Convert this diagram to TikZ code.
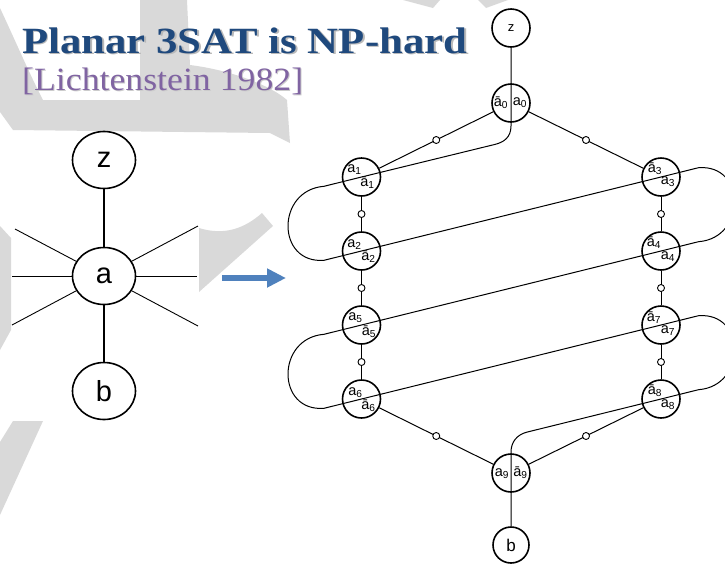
\documentclass[tikz,border=0pt]{standalone}
\usepackage{fontspec}
\setmainfont{Liberation Serif}
\newfontfamily\lblfont{Liberation Sans}
\usetikzlibrary{arrows.meta,shapes.geometric,calc}
\definecolor{titleblue}{RGB}{31,73,125}
\definecolor{subpurple}{RGB}{128,100,162}
\definecolor{arrowblue}{RGB}{79,129,189}
\definecolor{wmgrey}{RGB}{217,217,217}
\tikzset{
  wm/.style={fill=wmgrey, draw=none},
  bigvert/.style={ellipse, draw, line width=1.6pt, minimum width=63pt, minimum height=57pt, inner sep=0pt, font=\lblfont\fontsize{29}{29}\selectfont},
  vert/.style={circle, draw, line width=1.6pt, minimum size=38pt, inner sep=0pt},
  midpt/.style={circle, draw, fill=white, line width=0.9pt, minimum size=7pt, inner sep=0pt},
  lbl/.style={font=\lblfont\fontsize{14.5}{14.5}\selectfont, inner sep=0pt},
  thinedge/.style={line width=0.9pt},
  thickedge/.style={line width=2.6pt},
  wire/.style={line width=1pt},
  titletext/.style={anchor=base west, inner sep=0pt, font=\bfseries\fontsize{37}{37}\selectfont},
  subtext/.style={anchor=base west, inner sep=0pt, font=\fontsize{32.5}{32.5}\selectfont},
}
\begin{document}
\begin{tikzpicture}[x=1pt,y=-1pt]
\useasboundingbox (0,0) rectangle (725,563);
\clip (0,0) rectangle (725,563);
% watermark shapes
\fill[wm] (0,8) .. controls (15,40) and (30,75) .. (43,100) -- (140,100) -- (140,0) -- (187,0) -- (190,65) .. controls (230,70) and (270,85) .. (287,100) -- (290,143) -- (270,133) -- (13,130) -- (0,112) -- cycle;
\fill[wm] (199,228) .. controls (225,236) and (245,228) .. (262,213) -- (273,226) -- (199,292) -- cycle;
\fill[wm] (0,226) -- (11,238) -- (11,330) -- (0,350) -- cycle;
\fill[wm] (13,421) -- (43,421) -- (0,515) -- (0,442) -- cycle;
\fill[wm] (403,0) -- (440,0) -- (433,8) -- cycle;
\fill[wm] (478,0) -- (508,0) -- (486,8) -- cycle;
% title
\node[titletext, text=gray!55] (titleshadow) at (23.5,54.5) {\scalebox{1.157}[1]{Planar 3SAT is NP-hard}};
\node[titletext, text=titleblue] (title) at (22,53) {\scalebox{1.157}[1]{Planar 3SAT is NP-hard}};
\node[subtext, text=gray!40] (subshadow) at (23,91) {\scalebox{1.10}[1]{[Lichtenstein 1982]}};
\node[subtext, text=subpurple] (sub) at (22,90) {\scalebox{1.10}[1]{[Lichtenstein 1982]}};
% left graph
\node[bigvert] (Z) at (104,160) {z};
\node[bigvert] (A) at (104,276) {a};
\node[bigvert] (B) at (104,391) {b};
\coordinate (e1) at (12,276);
\coordinate (e2) at (197,276);
\coordinate (e3) at (15,229);
\coordinate (e4) at (198,226);
\coordinate (e5) at (12,325);
\coordinate (e6) at (198,326);
\draw[thickedge] (Z) -- (A);
\draw[thickedge] (A) -- (B);
\foreach \e in {e1,e2,e3,e4,e5,e6} \draw[thinedge] (A) -- (\e);
% arrow
\coordinate (arrS) at (222,278);
\coordinate (arrE) at (286,278);
\draw[arrowblue, line width=6pt, -{Triangle[length=19pt,width=18pt]}] (arrS) -- (arrE);
% right graph
\node[vert, font=\lblfont\fontsize{13}{13}\selectfont] (z0) at (511,28) {z};
\node[vert] (a0) at (511,103) {};
\node[vert] (a1) at (361.5,177) {};
\node[vert] (a3) at (661,177) {};
\node[vert] (a2) at (361.5,251) {};
\node[vert] (a4) at (661,251) {};
\node[vert] (a5) at (361.5,325) {};
\node[vert] (a7) at (661,325) {};
\node[vert] (a6) at (361.5,399) {};
\node[vert] (a8) at (661,399) {};
\node[vert] (a9) at (511,473) {};
\node[vert, minimum size=36pt, font=\lblfont\fontsize{17}{17}\selectfont] (bb) at (511,545) {b};
% edges with midpoints
\foreach \u/\v in {a0/a1, a0/a3, a1/a2, a2/a5, a5/a6, a3/a4, a4/a7, a7/a8, a6/a9, a8/a9}
  \draw[wire] (\u) -- node[midpt] (m\u\v) {} (\v);
% long wire
\draw[wire] (z0.south) -- ($(a0)+(0,23)$) .. controls ($(a0)+(0,35)$) and ($(a0)+(-8,39.4)$) .. ($(a0)+(-16,41.4)$)
  -- (a1.center) -- ($(a1)+(-37.5,9.3)$)
  .. controls ($(a1)+(-85.5,13)$) and ($(a2)+(-85.5,13)$) .. ($(a2)+(-37.5,9.3)$)
  -- (a2.center) -- (a3.center) -- ($(a3)+(37.5,-9.3)$)
  .. controls ($(a3)+(85.5,-13)$) and ($(a4)+(85.5,-13)$) .. ($(a4)+(37.5,-9.3)$)
  -- (a4.center) -- (a5.center) -- ($(a5)+(-37.5,9.3)$)
  .. controls ($(a5)+(-85.5,13)$) and ($(a6)+(-85.5,13)$) .. ($(a6)+(-37.5,9.3)$)
  -- (a6.center) -- (a7.center) -- ($(a7)+(37.5,-9.3)$)
  .. controls ($(a7)+(85.5,-13)$) and ($(a8)+(85.5,-13)$) .. ($(a8)+(37.5,-9.3)$)
  -- (a8.center) -- ($(a9)+(16,-40.9)$) .. controls ($(a9)+(6,-38.4)$) and ($(a9)+(0,-31)$) .. ($(a9)+(0,-21)$)
  -- (bb.north);
% labels
\node[lbl] (l0n) at ($(a0)+(-10,0)$) {ā\textsubscript{0}};
\node[lbl] (l0p) at ($(a0)+(9,0)$) {a\textsubscript{0}};
\node[lbl] (l9p) at ($(a9)+(-9,1)$) {a\textsubscript{9}};
\node[lbl] (l9n) at ($(a9)+(9.5,0)$) {ā\textsubscript{9}};
\node[lbl] (l1p) at ($(a1)+(-7,-7)$) {a\textsubscript{1}};
\node[lbl] (l1n) at ($(a1)+(6,6)$) {ā\textsubscript{1}};
\node[lbl] (l2p) at ($(a2)+(-7,-6)$) {a\textsubscript{2}};
\node[lbl] (l2n) at ($(a2)+(7,6)$) {ā\textsubscript{2}};
\node[lbl] (l5p) at ($(a5)+(-6,-7)$) {a\textsubscript{5}};
\node[lbl] (l5n) at ($(a5)+(7.5,6.5)$) {ā\textsubscript{5}};
\node[lbl] (l6p) at ($(a6)+(-6,-6)$) {a\textsubscript{6}};
\node[lbl] (l6n) at ($(a6)+(7,7)$) {ā\textsubscript{6}};
\node[lbl] (l3n) at ($(a3)+(-6,-8)$) {ā\textsubscript{3}};
\node[lbl] (l3p) at ($(a3)+(7,5)$) {a\textsubscript{3}};
\node[lbl] (l4n) at ($(a4)+(-7,-8)$) {ā\textsubscript{4}};
\node[lbl] (l4p) at ($(a4)+(7,6)$) {a\textsubscript{4}};
\node[lbl] (l7n) at ($(a7)+(-7,-7)$) {ā\textsubscript{7}};
\node[lbl] (l7p) at ($(a7)+(7,6)$) {a\textsubscript{7}};
\node[lbl] (l8n) at ($(a8)+(-6,-8)$) {ā\textsubscript{8}};
\node[lbl] (l8p) at ($(a8)+(7,6)$) {a\textsubscript{8}};
\end{tikzpicture}
\end{document}
